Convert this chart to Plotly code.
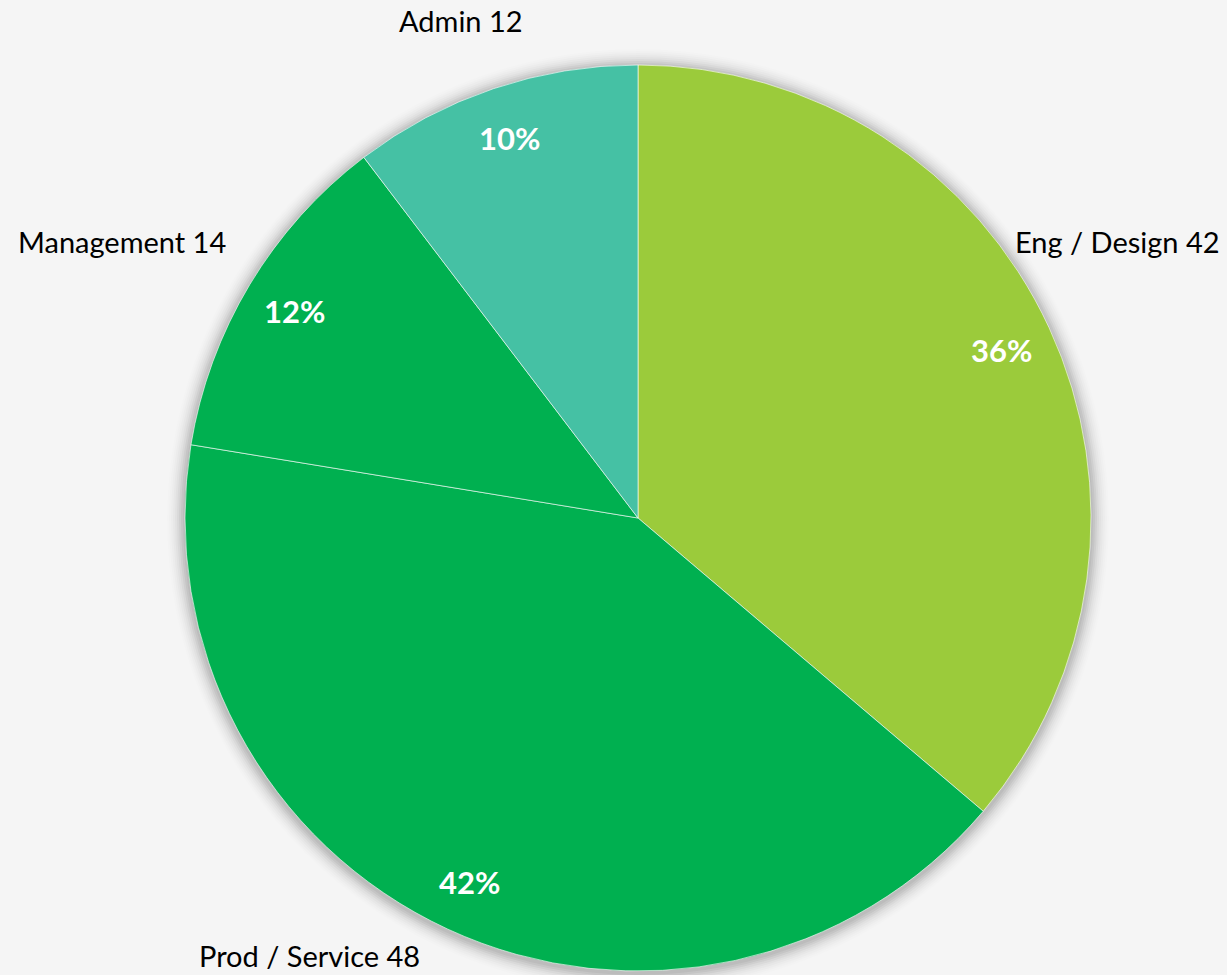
import math
import plotly.graph_objects as go

# ---- data ----
categories = ["Eng / Design", "Prod / Service", "Management", "Admin"]
values = [42, 48, 14, 12]
percent_labels = ["36%", "42%", "12%", "10%"]
colors = ["#9BCB3B", "#00B050", "#00B050", "#45C1A4"]

# ---- layout constants (pixels) ----
W, H = 1227, 975
CX, CY, R = 638, 518, 453
FONT = "Lato"

# category label placement (pixel centres)
label_pos = [(1117, 242), (309, 955), (122, 242), (461, 21)]

fig = go.Figure()
fig.add_trace(go.Pie(
    labels=categories,
    values=values,
    sort=False,
    direction="clockwise",
    rotation=0,
    marker=dict(colors=colors, line=dict(color="rgba(255,255,255,0.6)", width=1)),
    textinfo="none",
    hovertemplate="%{label}: %{value}<extra></extra>",
    domain=dict(x=[(CX - R) / W, (CX + R) / W], y=[1 - (CY + R) / H, 1 - (CY - R) / H]),
    showlegend=False,
))

# soft shadow halo behind the pie
shapes = []
for i, a in enumerate([0.05, 0.045, 0.04, 0.03, 0.025, 0.02, 0.015, 0.01, 0.008]):
    rr = R + 2 + i * 2
    shapes.append(dict(
        type="circle", xref="paper", yref="paper", layer="below",
        x0=(CX - rr) / W, x1=(CX + rr) / W,
        y0=1 - (CY + rr + 2) / H, y1=1 - (CY - rr + 2) / H,
        fillcolor=f"rgba(0,0,0,{a})", line=dict(width=0),
    ))

annotations = []
total = sum(values)
cum = 0
for cat, v, pct, (lx, ly) in zip(categories, values, percent_labels, label_pos):
    mid = (cum + v / 2) / total * 2 * math.pi
    cum += v
    px = CX + 0.885 * R * math.sin(mid)
    py = CY - 0.885 * R * math.cos(mid)
    annotations.append(dict(
        x=px / W, y=1 - py / H, xref="paper", yref="paper",
        text=f"<b>{pct}</b>", showarrow=False,
        font=dict(family=FONT, size=31, color="white"),
        xanchor="center", yanchor="middle",
    ))
    annotations.append(dict(
        x=lx / W, y=1 - ly / H, xref="paper", yref="paper",
        text=f"{cat} {v}", showarrow=False,
        font=dict(family=FONT, size=29, color="black"),
        xanchor="center", yanchor="middle",
    ))

fig.update_layout(
    width=W, height=H,
    margin=dict(l=0, r=0, t=0, b=0),
    paper_bgcolor="#f5f5f5",
    plot_bgcolor="#f5f5f5",
    shapes=shapes,
    annotations=annotations,
    showlegend=False,
)

fig.write_html(
    "out.html",
    config={"displayModeBar": False},
    post_script="document.body.style.margin='0';document.body.style.overflow='hidden';",
)
